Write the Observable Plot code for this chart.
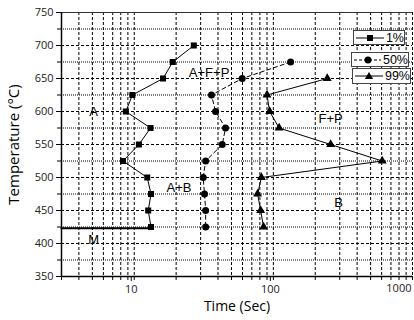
<!DOCTYPE html>
<html>
<head>
<meta charset="utf-8">
<script src="https://cdn.jsdelivr.net/npm/d3@7"></script>
<script src="https://cdn.jsdelivr.net/npm/@observablehq/plot@0.6"></script>
<style>
  html, body { margin: 0; padding: 0; background: #fff; }
  #wrap { position: relative; width: 414px; height: 320px; }
  .lg { position: absolute; background: #fff; border: 1px solid #444; box-sizing: border-box;
        display: flex; align-items: center; font-family: "Liberation Sans", Arial, sans-serif; font-size: 12.5px; color: #000; }
  .lg svg { display: block; margin-left: 2px; margin-right: 2px; }
</style>
</head>
<body>
<div id="wrap"></div>
<script>
// ---- data ----
const temps1 = [700, 675, 650, 625, 600, 575, 550, 525, 500, 475, 450, 425];
const time1  = [26.8, 18.9, 16.1, 9.7, 8.7, 13.1, 10.8, 8.3, 12.4, 13.2, 12.6, 13.2];

const temps50 = [675, 650, 625, 600, 575, 550, 525, 500, 475, 450, 425];
const time50  = [133, 59.7, 35.9, 38.4, 45.3, 42.9, 32.6, 31.3, 32, 32.6, 32.6];

const temps99 = [650, 625, 600, 575, 550, 525, 500, 475, 450, 425];
const time99  = [244, 90, 94, 110, 258, 606, 82, 77, 81, 85];

const msTemp = 423;
const msTime = [3, 13.2];

const regionNames = ["A", "A+F+P", "F+P", "A+B", "B", "M"];
const regionTime  = [5.1, 34.5, 258, 21, 294, 5.1];
const regionTemp  = [600, 659, 589, 484, 462, 406];

const xMajor = [10, 100, 1000];
const xMinor = [3, 4, 5, 6, 7, 8, 9, 20, 30, 40, 50, 60, 70, 80, 90, 200, 300, 400, 500, 600, 700, 800, 900];
const yMajor = [350, 400, 450, 500, 550, 600, 650, 700, 750];
const yMinor = [375, 425, 475, 525, 575, 625, 675, 725];

const seriesNames = ["1%", "50%", "99%"];

// ---- build tables ----
const s1 = temps1.map((T, i) => ({t: time1[i], T}));
const s50 = temps50.map((T, i) => ({t: time50[i], T}));
const s99 = temps99.map((T, i) => ({t: time99[i], T}));
const ms = msTime.map(t => ({t, T: msTemp}));
const regions = regionNames.map((n, i) => ({n, t: regionTime[i], T: regionTemp[i]}));
const xAll = xMinor.concat(xMajor).sort((a, b) => a - b);

const tickFont = "'Open Sans', sans-serif";

const chart = Plot.plot({
  width: 414,
  height: 320,
  marginLeft: 61,
  marginRight: 2,
  marginTop: 12,
  marginBottom: 44,
  style: {background: "#fff", fontFamily: tickFont},
  x: {type: "log", domain: [3, 1000], axis: null},
  y: {domain: [350, 750], axis: null},
  marks: [
    // grid
    Plot.gridX(xAll, {stroke: "#000", strokeOpacity: 1, strokeDasharray: "3,2", strokeWidth: 1}),
    Plot.gridY(yMinor, {stroke: "#000", strokeOpacity: 1, strokeDasharray: "1,1", strokeWidth: 1}),
    Plot.gridY(yMajor, {stroke: "#000", strokeOpacity: 1, strokeDasharray: "3,2", strokeWidth: 1}),
    Plot.ruleY([750], {stroke: "#333", strokeWidth: 1}),
    // axes lines
    Plot.ruleX([3], {stroke: "#000", strokeWidth: 1.5}),
    Plot.ruleY([350], {stroke: "#000", strokeWidth: 1.5}),
    // ticks
    Plot.axisY(yMajor, {tickSize: 5, tickPadding: 3, fontSize: 11, fontFamily: tickFont, fill: "#222", stroke: "#000", label: null}),
    Plot.axisY(yMinor, {tickSize: 4, text: null, label: null, stroke: "#000"}),
    Plot.axisX(xAll, {tickSize: 4, text: null, label: null, stroke: "#000"}),
    Plot.axisX([10, 100], {tickSize: 5, tickPadding: 4, dx: -3, fontSize: 11, fontFamily: tickFont, fill: "#222", stroke: "#000", label: null}),
    Plot.text([1000], {x: d => d, frameAnchor: "bottom", dy: 15, textAnchor: "end", dx: -1, fontSize: 11, fontFamily: tickFont, fill: "#222", text: d => String(d)}),
    // axis titles
    Plot.text(["Time (Sec)"], {frameAnchor: "bottom", dy: 30, lineAnchor: "middle", textAnchor: "middle", fontSize: 14, fontFamily: tickFont, fill: "#000"}),
    Plot.text(["Temperature (°C)"], {frameAnchor: "left", dx: -47, rotate: -90, textAnchor: "middle", lineAnchor: "middle", fontSize: 15, fontFamily: tickFont, fill: "#000"}),
    // region labels
    Plot.text(regions, {x: "t", y: "T", text: "n", fontSize: 13, fontFamily: "'Liberation Sans', Arial, sans-serif", fill: "#000"}),
    // Ms line
    Plot.line(ms, {x: "t", y: "T", stroke: "#000", strokeWidth: 2}),
    // series
    Plot.line(s1, {x: "t", y: "T", stroke: "#000", strokeWidth: 1}),
    Plot.dot(s1, {x: "t", y: "T", symbol: "square", r: 3.4, fill: "#000", stroke: "none"}),
    Plot.line(s50, {x: "t", y: "T", stroke: "#000", strokeWidth: 1, strokeDasharray: "4,3"}),
    Plot.dot(s50, {x: "t", y: "T", symbol: "circle", r: 3.5, fill: "#000", stroke: "none"}),
    Plot.line(s99, {x: "t", y: "T", stroke: "#000", strokeWidth: 1}),
    Plot.dot(s99, {x: "t", y: "T", symbol: "triangle", r: 3.3, fill: "#000", stroke: "none"})
  ]
});

const wrap = document.getElementById("wrap");
wrap.appendChild(chart);

// legend (HTML overlay)
const legendBoxes = [
  {left: 353, top: 30, w: 52, h: 15, dash: null, sym: "square"},
  {left: 351, top: 52, w: 58, h: 15, dash: "3,2", sym: "circle"},
  {left: 352, top: 68, w: 59, h: 16, dash: null, sym: "triangle"}
];
legendBoxes.forEach((b, i) => {
  const div = document.createElement("div");
  div.className = "lg";
  div.style.left = b.left + "px";
  div.style.top = b.top + "px";
  div.style.width = b.w + "px";
  div.style.height = b.h + "px";
  let marker;
  if (b.sym === "square") marker = '<rect x="11" y="3" width="6" height="6" fill="#000"/>';
  else if (b.sym === "circle") marker = '<circle cx="14" cy="6" r="3.5" fill="#000"/>';
  else marker = '<path d="M14,2 L18.2,9 L9.8,9 Z" fill="#000"/>';
  const dash = b.dash ? ` stroke-dasharray="${b.dash}"` : "";
  div.innerHTML = `<svg width="28" height="12"><line x1="0" x2="28" y1="6" y2="6" stroke="#000" stroke-width="1"${dash}/>${marker}</svg><span>${seriesNames[i]}</span>`;
  wrap.appendChild(div);
});
</script>
</body>
</html>
